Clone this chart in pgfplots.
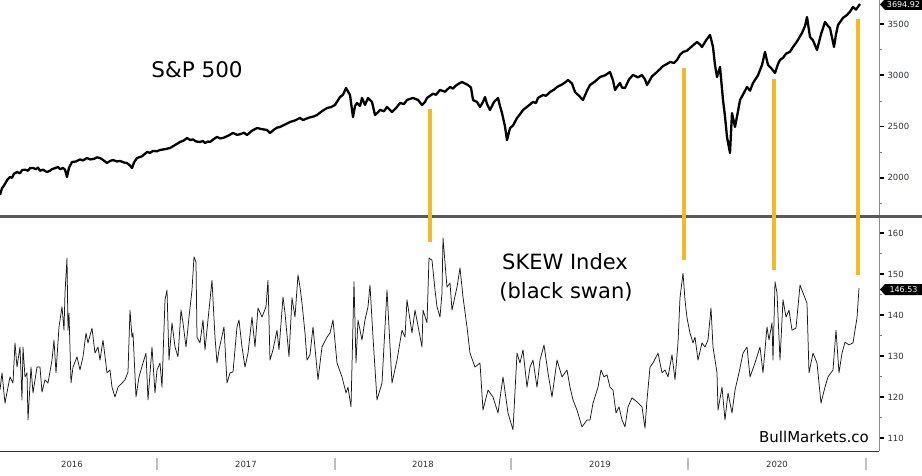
\documentclass[border=0pt]{standalone}
\usepackage{pgfplots}
\pgfplotsset{compat=1.18}
\usepackage{pgfplotstable}
\usepackage{fontspec}
\setmainfont{DejaVu Sans}
\definecolor{orng}{HTML}{F4B92A}
\definecolor{labc}{HTML}{2E3340}
\pgfplotstableread{
x v
0 1833
2 1900
4 1925
6 1960
8 1990
10 2009
12 2000
14 2040
17 2057
20 2045
22 2075
25 2080
28 2070
30 2095
33 2096
36 2085
38 2100
40 2070
43 2080
47 2057
50 2070
52 2085
55 2095
58 2106
60 2085
63 2096
65 2080
67 2009
69 2100
72 2155
76 2160
80 2180
83 2170
87 2194
90 2180
94 2185
97 2200
100 2194
103 2175
107 2145
110 2165
113 2174
117 2160
120 2165
124 2150
127 2145
130 2120
132 2096
134 2150
137 2194
142 2210
147 2252
150 2245
153 2262
157 2260
160 2272
165 2280
170 2291
175 2320
180 2350
184 2365
187 2389
190 2370
193 2375
196 2355
200 2350
203 2360
205 2340
208 2355
210 2350
214 2380
217 2399
220 2385
223 2389
228 2410
233 2438
237 2420
240 2425
244 2440
247 2418
252 2460
257 2486
262 2475
267 2467
270 2438
274 2470
277 2490
280 2496
285 2520
290 2545
295 2560
300 2584
303 2564
307 2580
310 2590
314 2600
317 2613
322 2650
327 2681
331 2690
335 2711
340 2788
343 2810
346 2876
350 2808
353 2593
355 2700
357 2730
360 2700
362 2779
365 2711
368 2779
372 2740
375 2613
378 2640
380 2662
384 2650
387 2691
392 2642
396 2680
400 2730
404 2720
407 2760
413 2779
418 2760
422 2711
425 2740
427 2779
433 2820
436 2810
440 2857
445 2840
450 2886
453 2870
456 2900
459 2920
462 2935
465 2920
468 2905
471 2880
473 2759
477 2740
480 2691
483 2740
485 2788
487 2720
490 2662
494 2740
498 2779
500 2700
502 2632
505 2500
507 2369
510 2486
513 2510
517 2584
520 2620
523 2662
528 2700
533 2740
536 2730
538 2780
543 2808
546 2800
550 2837
554 2860
557 2886
562 2910
565 2930
568 2954
572 2920
575 2837
579 2800
583 2759
587 2850
590 2905
595 2940
600 2983
605 3000
610 3032
613 2950
615 2857
618 2900
620 2925
622 2880
625 2876
629 2960
633 3003
638 2980
642 3003
645 2960
647 2905
652 2990
657 3032
660 3060
663 3090
667 3110
670 3130
674 3120
677 3149
680 3200
683 3227
687 3240
690 3266
694 3300
697 3325
700 3300
702 3276
706 3340
710 3393
713 3276
715 3100
717 2983
720 3081
723 2759
725 2600
727 2398
730 2243
732 2632
735 2496
738 2650
740 2759
744 2830
747 2886
750 2850
753 2925
758 3000
762 3100
765 3227
768 3100
772 3060
775 3022
778 3110
780 3149
783 3170
786 3210
790 3230
793 3276
797 3330
802 3412
805 3480
807 3568
810 3373
813 3340
817 3247
821 3400
825 3519
828 3480
830 3461
834 3276
836 3400
838 3490
843 3560
847 3588
850 3620
853 3666
856 3640
860 3695
}\spx
\pgfplotstableread{
x v
0 121.7
2 125.9
5 118.5
8 122.4
10 124.9
13 123.4
15 133.2
17 127.3
20 132.2
22 119.3
23 132.2
25 124.9
27 125.9
28 114.4
31 127.3
33 121.0
37 127.3
40 127.3
42 121.2
45 124.2
48 123.4
52 129.0
54 133.9
56 125.9
59 137.1
62 142.0
64 136.3
65 145.4
67 153.9
68 136.3
69 140.5
71 123.4
73 127.3
77 129.8
80 126.6
83 129.8
86 135.6
88 133.2
92 136.8
95 130.7
98 132.2
100 129.0
103 133.9
107 125.9
110 126.6
112 122.4
115 120.0
118 122.4
122 123.4
125 124.2
128 126.1
130 141.2
132 134.6
133 135.6
136 120.0
139 124.9
143 128.3
146 130.7
148 119.3
152 132.2
155 121.0
157 126.6
160 128.3
162 122.4
165 143.7
167 146.1
169 129.0
172 138.1
175 132.2
178 129.8
181 141.2
183 138.1
186 132.2
189 139.5
192 146.1
194 154.2
196 152.9
197 134.6
200 133.2
203 138.8
205 131.5
208 138.8
212 148.5
215 134.6
217 128.3
219 131.5
224 137.1
227 123.4
230 125.9
233 126.1
237 137.1
239 138.8
242 132.2
245 127.3
248 130.7
252 139.5
255 132.2
258 141.7
262 139.5
266 142.0
268 148.5
270 129.0
273 131.5
277 136.3
279 131.5
283 144.4
285 140.5
289 129.8
292 144.2
295 139.5
298 149.8
300 146.8
302 142.9
305 135.6
307 129.0
310 130.3
313 137.1
318 124.2
322 132.2
327 134.6
330 135.6
333 138.8
337 128.3
342 124.9
346 121.0
348 122.4
351 117.6
354 148.1
356 128.3
358 138.8
362 133.9
365 138.8
368 142.0
370 147.3
373 134.6
377 119.3
382 123.4
387 146.1
392 123.4
397 129.0
402 136.3
405 134.6
407 143.7
412 135.6
415 141.2
422 132.2
423 141.2
427 138.1
429 153.9
432 153.4
435 146.1
437 142.0
440 139.5
442 145.4
443 158.8
447 146.8
450 147.8
452 141.2
457 146.8
460 151.5
463 144.4
467 137.1
470 130.7
475 127.3
480 128.3
483 116.8
488 121.7
493 120.0
498 116.1
503 124.9
508 116.1
513 112.0
517 130.7
520 128.3
523 131.5
527 122.4
530 127.3
533 129.0
537 122.4
540 129.0
544 132.7
548 125.9
552 120.0
557 129.0
562 124.9
567 126.6
570 122.4
573 119.3
577 116.8
582 112.7
587 114.4
590 114.4
593 118.5
598 122.4
601 126.6
604 124.9
607 125.4
610 122.4
613 121.7
616 116.1
619 117.6
622 114.4
625 112.7
628 117.6
632 119.8
637 118.8
642 117.6
645 112.4
647 119.3
650 127.3
653 128.3
658 130.7
662 125.9
665 126.6
668 124.9
672 130.3
675 124.2
678 133.2
680 144.2
683 150.2
685 143.7
687 139.3
690 135.6
693 133.2
695 134.6
698 129.0
702 133.2
705 132.2
708 133.9
711 141.7
713 132.2
717 125.9
718 116.8
722 122.4
725 114.4
728 121.0
732 116.1
735 121.7
739 125.9
743 130.7
747 132.2
750 124.9
755 128.3
760 132.2
763 125.9
767 137.1
769 133.9
772 138.1
773 129.0
775 148.1
777 145.4
780 129.0
783 143.7
786 139.5
789 141.2
792 136.3
796 136.8
800 147.3
803 145.4
807 142.9
809 125.9
813 130.7
817 128.3
821 118.5
825 122.4
828 124.9
833 126.6
836 136.3
839 125.9
842 130.7
845 133.4
849 132.7
853 133.2
855 136.3
857 139.3
859 146.53
}\skew
\begin{document}
\begin{tikzpicture}
\path[use as bounding box] (0pt,0pt) rectangle (922pt,475pt);
\pgfplotsset{
  common/.style={
    scale only axis, xmin=0, xmax=879,
    axis y line*=right,
    y axis line style={draw=black!45, line width=0.8pt, -},
    tick align=outside, major tick length=5pt, minor tick length=3pt,
    major y tick style={black, line width=1.6pt},
    minor y tick style={black!50, line width=0.6pt},
    yticklabel style={font=\fontsize{8.5}{10}\selectfont, text=labc},
    scaled y ticks=false,
    /pgf/number format/assume math mode=true,
    /pgf/number format/1000 sep={},
  }
}
\begin{axis}[common,
  at={(0pt,259pt)}, anchor=south west, width=879pt, height=216pt,
  ymin=1628.5, ymax=3733.9,
  axis x line=none,
  ytick={2000,2500,3000,3500}, minor ytick={1750,2250,2750,3250},
]
\addplot[black, line width=2.3pt, line join=round] table[x=x,y=v] {\spx};
\end{axis}
\begin{axis}[common,
  at={(0pt,24pt)}, anchor=south west, width=879pt, height=235pt,
  ymin=106.83, ymax=164.15,
  axis x line*=bottom,
  x axis line style={draw=black!80, line width=0.8pt, -},
  xtick=\empty,
  minor xtick={9.29,24.06,...,879},
  minor x tick style={black!80, line width=0.6pt},
  ytick={110,120,130,140,150,160}, minor ytick={115,125,135,145,155},
]
\addplot[black!90, line width=0.75pt, line join=round] table[x=x,y=v] {\skew};
\end{axis}
% panel separator
\draw[black!65, line width=3.5pt] (0pt,258.5pt) -- (922pt,258.5pt);
% year separators and labels
\foreach \xx in {157,335,511,688,866} {
  \draw[black!25, line width=1.2pt] (\xx pt,5pt) -- (\xx pt,17pt);
}
\foreach \xx/\yy in {72/2016,246/2017,423/2018,600/2019,777/2020} {
  \node[font=\fontsize{8.5}{10}\selectfont, text=labc] at (\xx pt,11pt) {\yy};
}
% orange markers
\draw[orng, line width=3.4pt] (430pt,366pt) -- (430pt,233pt);
\draw[orng, line width=3.4pt] (684pt,407pt) -- (684pt,215pt);
\draw[orng, line width=3.4pt] (774pt,396pt) -- (774pt,205pt);
\draw[orng, line width=3.4pt] (858pt,456pt) -- (858pt,200pt);
% titles
\node[font=\fontsize{21.5}{24}\selectfont] at (197pt,405pt) {S\&P 500};
\node[font=\fontsize{21}{24}\selectfont] at (565pt,213pt) {SKEW Index};
\node[font=\fontsize{21}{24}\selectfont] at (566pt,183pt) {(black swan)};
\node[font=\fontsize{15}{18}\selectfont] at (814pt,38pt) {BullMarkets.co};
% last value boxes
\fill[black] (880pt,470.5pt) -- (885pt,476pt) -- (922pt,476pt) -- (922pt,465pt) -- (885pt,465pt) -- cycle;
\node[font=\fontsize{8}{9}\selectfont, text=white, inner sep=0pt] at (903.5pt,470.5pt) {3694.92};
\fill[black] (880pt,185.5pt) -- (885pt,191pt) -- (922pt,191pt) -- (922pt,180pt) -- (885pt,180pt) -- cycle;
\node[font=\fontsize{8}{9}\selectfont, text=white, inner sep=0pt] at (903.5pt,185.5pt) {146.53};
\end{tikzpicture}
\end{document}
